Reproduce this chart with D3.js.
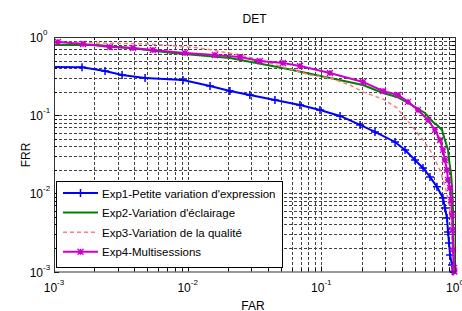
<!DOCTYPE html>
<html>
<head>
<meta charset="utf-8">
<script src="https://cdn.jsdelivr.net/npm/d3@7"></script>
<style>
  body { margin: 0; background: #fff; }
  svg { font-family: "Liberation Sans", Arial, sans-serif; }
</style>
</head>
<body>
<div id="chart"></div>
<script>
// DET curves, FAR (x) vs FRR (y), both log
const seriesNames = [
  "Exp1-Petite variation d'expression",
  "Exp2-Variation d'éclairage",
  "Exp3-Variation de la qualité",
  "Exp4-Multisessions"
];

const far1 = [0.001, 0.00162, 0.00241, 0.00323, 0.0048, 0.00923, 0.0147, 0.0207, 0.0292, 0.045, 0.0692, 0.0977, 0.138, 0.195, 0.252, 0.356, 0.423, 0.502, 0.576, 0.65, 0.733, 0.813, 0.841, 0.871, 0.887, 0.902, 0.918, 0.95, 0.966];
const frr1 = [0.413, 0.41, 0.367, 0.327, 0.299, 0.282, 0.236, 0.204, 0.181, 0.156, 0.135, 0.1165, 0.0977, 0.075, 0.061, 0.0454, 0.0359, 0.0267, 0.0211, 0.0162, 0.0121, 0.00873, 0.0065, 0.00484, 0.00321, 0.00232, 0.00163, 0.00121, 0.001];

const far2 = [0.001, 0.0021, 0.00371, 0.00776, 0.0207, 0.0516, 0.116, 0.205, 0.289, 0.368, 0.46, 0.596, 0.684, 0.733, 0.80, 0.841, 0.887, 0.902, 0.933, 0.95, 0.966, 0.975, 0.983];
const frr2 = [0.79, 0.79, 0.723, 0.624, 0.539, 0.401, 0.299, 0.243, 0.192, 0.171, 0.139, 0.1067, 0.0819, 0.075, 0.0647, 0.0482, 0.0359, 0.0267, 0.0182, 0.0121, 0.00614, 0.00254, 0.001];

const far3 = [0.001, 0.00221, 0.00523, 0.01236, 0.0246, 0.0347, 0.0516, 0.0822, 0.116, 0.164, 0.205, 0.289, 0.368, 0.423, 0.502, 0.576, 0.65, 0.708, 0.772, 0.813, 0.857, 0.902, 0.933, 0.95, 0.966, 0.983];
const frr3 = [0.863, 0.838, 0.814, 0.723, 0.589, 0.508, 0.413, 0.327, 0.299, 0.243, 0.198, 0.161, 0.124, 0.092, 0.0647, 0.0482, 0.0359, 0.0267, 0.0199, 0.0148, 0.011, 0.00711, 0.00457, 0.00254, 0.00163, 0.001];

const far4 = [0.001, 0.00107, 0.00165, 0.00262, 0.0039, 0.0055, 0.00955, 0.016, 0.0246, 0.0347, 0.0516, 0.0692, 0.116, 0.205, 0.289, 0.375, 0.445, 0.529, 0.628, 0.708, 0.772, 0.813, 0.841, 0.871, 0.887, 0.918, 0.933, 0.95, 0.958, 0.966, 0.983, 0.99];
const frr4 = [0.863, 0.863, 0.814, 0.745, 0.723, 0.682, 0.624, 0.589, 0.555, 0.493, 0.465, 0.426, 0.346, 0.266, 0.204, 0.181, 0.148, 0.1165, 0.0869, 0.0647, 0.0482, 0.0359, 0.0267, 0.0199, 0.0148, 0.0117, 0.00824, 0.0053, 0.0034, 0.00189, 0.00111, 0.001];

const majorTicks = [0.001, 0.01, 0.1, 1];
const tickExponents = ["-3", "-2", "-1", "0"];

const W = 462, H = 311;
const margin = { top: 37, right: 7, bottom: 39.5, left: 54 };

const svg = d3.select("#chart").append("svg")
  .attr("width", W).attr("height", H);

const x = d3.scaleLog().domain([0.001, 1]).range([margin.left, W - margin.right]);
const y = d3.scaleLog().domain([0.001, 1]).range([H - margin.bottom, margin.top]);

const x0 = x.range()[0], x1 = x.range()[1];
const y0 = y.range()[1], y1 = y.range()[0];

// minor + major positions
const allTicks = [];
for (let e = -3; e < 0; e++) {
  for (let m = 1; m <= 9; m++) allTicks.push(m * Math.pow(10, e));
}
allTicks.push(1);
const minorTicks = allTicks.filter(v => !majorTicks.some(t => Math.abs(t - v) < 1e-12));

svg.append("rect").attr("x", x0).attr("y", y0).attr("width", x1 - x0).attr("height", y1 - y0).attr("fill", "#fff");

// grid
const grid = svg.append("g").attr("stroke", "#222").attr("stroke-width", 1).attr("stroke-dasharray", "3,2").attr("opacity", 0.85);
grid.selectAll(".gx").data(allTicks.slice(1, -1)).join("line")
  .attr("x1", d => Math.round(x(d)) + 0.5).attr("x2", d => Math.round(x(d)) + 0.5)
  .attr("y1", y0).attr("y2", y1);
grid.selectAll(".gy").data(allTicks.slice(1, -1)).join("line")
  .attr("class", "gy")
  .attr("y1", d => Math.round(y(d)) + 0.5).attr("y2", d => Math.round(y(d)) + 0.5)
  .attr("x1", x0).attr("x2", x1);

// ticks, inside on all four sides
const ticks = svg.append("g").attr("stroke", "#000").attr("stroke-width", 1);
function tickLen(v) { return majorTicks.some(t => Math.abs(t - v) < 1e-12) ? 5 : 3; }
allTicks.forEach(v => {
  const px = Math.round(x(v)) + 0.5, py = Math.round(y(v)) + 0.5, L = tickLen(v);
  ticks.append("line").attr("x1", px).attr("x2", px).attr("y1", y1).attr("y2", y1 - L);
  ticks.append("line").attr("x1", px).attr("x2", px).attr("y1", y0).attr("y2", y0 + L);
  ticks.append("line").attr("y1", py).attr("y2", py).attr("x1", x0).attr("x2", x0 + L);
  ticks.append("line").attr("y1", py).attr("y2", py).attr("x1", x1).attr("x2", x1 - L);
});

// curves
const line = d3.line().x(d => x(d[0])).y(d => y(d[1]));
const series = [
  { far: far1, frr: frr1, color: "#0000ff", width: 2, dash: null, marker: "plus" },
  { far: far2, frr: frr2, color: "#008000", width: 2, dash: null, marker: null },
  { far: far3, frr: frr3, color: "#ff7f7f", width: 1.5, dash: "4,3", marker: null },
  { far: far4, frr: frr4, color: "#cc00cc", width: 2, dash: null, marker: "star" }
];

function drawMarker(g, kind, cx, cy, color) {
  if (kind === "plus") {
    g.append("path").attr("d", `M${cx - 4},${cy}H${cx + 4}M${cx},${cy - 4}V${cy + 4}`)
      .attr("stroke", color).attr("stroke-width", 1.5).attr("fill", "none");
  } else if (kind === "star") {
    const r = 3;
    g.append("path").attr("d",
      `M${cx - r},${cy}H${cx + r}M${cx},${cy - r}V${cy + r}M${cx - r},${cy - r}L${cx + r},${cy + r}M${cx - r},${cy + r}L${cx + r},${cy - r}`)
      .attr("stroke", color).attr("stroke-width", 1.3).attr("fill", "none");
  }
}

const curves = svg.append("g");
series.forEach(s => {
  const pts = s.far.map((f, i) => [f, s.frr[i]]);
  curves.append("path").datum(pts)
    .attr("d", line).attr("fill", "none")
    .attr("stroke", s.color).attr("stroke-width", s.width)
    .attr("stroke-dasharray", s.dash);
  if (s.marker) {
    pts.slice(1).forEach(p => drawMarker(curves, s.marker, x(p[0]), y(p[1]), s.color));
  }
});

// axes box
svg.append("rect").attr("x", x0 + 0.5).attr("y", y0 + 0.5).attr("width", x1 - x0).attr("height", y1 - y0)
  .attr("fill", "none").attr("stroke", "#333").attr("stroke-width", 1);

// tick labels
const lab = svg.append("g").attr("fill", "#000").attr("font-size", 12);
majorTicks.forEach((v, i) => {
  // y
  const ty = y(v) + 5;
  lab.append("text").attr("x", 43).attr("y", ty).attr("text-anchor", "end").text("10");
  lab.append("text").attr("x", 43).attr("y", ty - 7).attr("font-size", 8).text(tickExponents[i]);
  // x
  const t = lab.append("text").attr("x", x(v)).attr("y", 292).attr("text-anchor", "middle");
  t.append("tspan").text("10");
  t.append("tspan").attr("dy", -7).attr("font-size", 8).text(tickExponents[i]);
});

// title and axis labels
svg.append("text").attr("x", (x0 + x1) / 2).attr("y", 23).attr("text-anchor", "middle")
  .attr("font-size", 12).text("DET");
svg.append("text").attr("x", 253).attr("y", 310).attr("text-anchor", "middle")
  .attr("font-size", 12).text("FAR");
svg.append("text").attr("transform", "translate(30,155) rotate(-90)").attr("text-anchor", "middle")
  .attr("font-size", 12).text("FRR");

// legend
const legend = svg.append("g");
legend.append("rect").attr("x", 56.5).attr("y", 181.5).attr("width", 226).attr("height", 86)
  .attr("fill", "#fff").attr("stroke", "#000").attr("stroke-width", 1);
series.forEach((s, i) => {
  const ly = 193 + i * 19.6;
  legend.append("line").attr("x1", 63).attr("x2", 98).attr("y1", ly).attr("y2", ly)
    .attr("stroke", s.color).attr("stroke-width", s.width).attr("stroke-dasharray", s.dash);
  if (s.marker) drawMarker(legend, s.marker, 80.5, ly, s.color);
  legend.append("text").attr("x", 102).attr("y", ly + 4.5).attr("font-size", 11.5)
    .attr("fill", "#000").text(seriesNames[i]);
});
</script>
</body>
</html>
